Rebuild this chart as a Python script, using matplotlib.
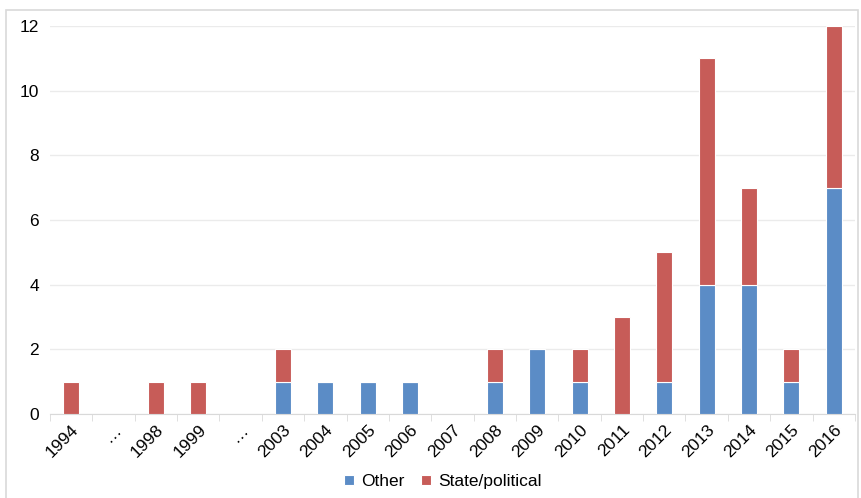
import matplotlib.pyplot as plt
from matplotlib.patches import Rectangle

plt.rcParams['font.family'] = ['Liberation Sans', 'DejaVu Sans']

years = ['1994', '…', '1998', '1999', '…', '2003', '2004', '2005', '2006', '2007',
         '2008', '2009', '2010', '2011', '2012', '2013', '2014', '2015', '2016']
other = [0, 0, 0, 0, 0, 1, 1, 1, 1, 0, 1, 2, 1, 0, 1, 4, 4, 1, 7]
state = [1, 0, 1, 1, 0, 1, 0, 0, 0, 0, 1, 0, 1, 3, 4, 7, 3, 1, 5]

blue = '#5B8CC6'
red = '#C75C58'

fig = plt.figure(figsize=(8.61, 4.98), dpi=100)
ax = fig.add_axes([0.058, 0.169, 0.935, 0.779])

# light outer frame, open at the bottom edge of the image
fig.patches.append(Rectangle((6 / 861, -0.05), 852 / 861, 1.03,
                             transform=fig.transFigure, fill=False,
                             edgecolor='#D9D9D9', linewidth=1.2))

x = range(len(years))
ax.bar(x, other, width=0.38, color=blue, edgecolor='white', linewidth=0.8, label='Other', zorder=3)
ax.bar(x, state, width=0.38, bottom=other, color=red, edgecolor='white', linewidth=0.8,
       label='State/political', zorder=3)

ax.set_xlim(-0.5, len(years) - 0.5)
ax.set_ylim(0, 12)
ax.set_yticks(range(0, 13, 2))
ax.yaxis.grid(True, color='#EBEBEB', linewidth=1, zorder=0)
ax.tick_params(axis='y', length=0, labelsize=12.5, pad=8)

ax.set_xticks(list(x))
ax.set_xticklabels(years, rotation=45, ha='right', rotation_mode='anchor', fontsize=12.5)
ax.set_xticks([i - 0.5 for i in range(len(years) + 1)], minor=True)
ax.tick_params(axis='x', which='major', length=0, pad=6)
ax.tick_params(axis='x', which='minor', length=5, color='#D9D9D9', direction='out')

for s in ['top', 'right', 'left']:
    ax.spines[s].set_visible(False)
ax.spines['bottom'].set_color('#D9D9D9')

ax.legend(loc='upper center', bbox_to_anchor=(0.488, -0.115), ncol=2, frameon=False,
          fontsize=12.5, handlelength=0.55, handleheight=0.55, columnspacing=1.0, handletextpad=0.4)

fig.savefig('out.png', dpi=100)
